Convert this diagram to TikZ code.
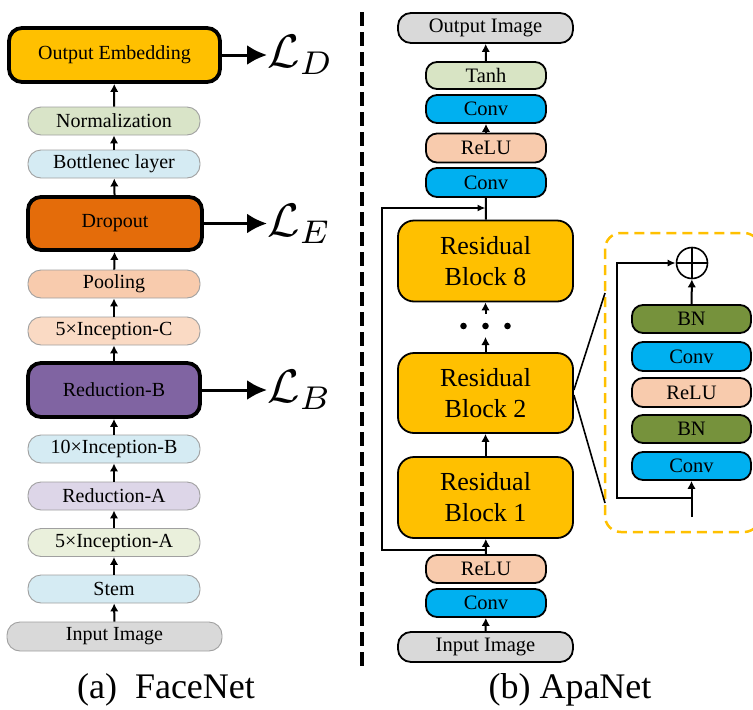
\documentclass[tikz,border=0pt]{standalone}
\usepackage{fontspec}
\setmainfont{Liberation Serif}
\usetikzlibrary{arrows.meta,positioning,calc}

\definecolor{cGold}{HTML}{FFC000}
\definecolor{cDrop}{HTML}{E46C0A}
\definecolor{cPurple}{HTML}{8064A2}
\definecolor{cNorm}{HTML}{D9E4C8}
\definecolor{cBlueL}{HTML}{D5EBF3}
\definecolor{cPeach}{HTML}{F8CBAD}
\definecolor{cPeachL}{HTML}{FADAC4}
\definecolor{cLav}{HTML}{DDD6E8}
\definecolor{cGreenL}{HTML}{EAF0DC}
\definecolor{cGray}{HTML}{D9D9D9}
\definecolor{cConv}{HTML}{00B0F0}
\definecolor{cBN}{HTML}{76923C}
\definecolor{cTanh}{HTML}{D8E4C4}
\definecolor{cEdge}{HTML}{A0A0A0}

\newcommand{\losssym}[1]{\scalebox{4.7}{$\mathcal{L}_{#1}$}}

\tikzset{
  lbox/.style={draw=cEdge, line width=0.9pt, rounded corners=13pt,
    minimum width=172pt, minimum height=28pt, inner sep=0pt,
    font=\fontsize{20}{22}\selectfont},
  lthick/.style={draw=black, line width=3.8pt, rounded corners=13pt,
    minimum width=172pt, minimum height=53pt, inner sep=0pt,
    font=\fontsize{20}{22}\selectfont},
  rbox/.style={draw=black, line width=1.8pt, rounded corners=11pt,
    minimum width=120pt, minimum height=28pt, inner sep=0pt,
    font=\fontsize{20.5}{22}\selectfont},
  wbox/.style={rbox, minimum width=175pt, minimum height=30pt, rounded corners=13pt},
  resbox/.style={draw=black, line width=1.8pt, rounded corners=16pt, fill=cGold,
    minimum width=175pt, minimum height=81pt, inner sep=0pt, align=center,
    font=\fontsize{26}{31}\selectfont},
  flow/.style={line width=2pt, -{Latex[length=8pt,width=8.5pt]}},
  link/.style={line width=2pt},
  skip/.style={line width=1.6pt, -{Latex[length=8pt,width=7pt]}},
  loss/.style={line width=3pt, -{Latex[length=20pt,width=20pt]}},
  losslabel/.style={anchor=west, inner sep=0pt},
  caption/.style={font=\fontsize{36}{40}\selectfont}
}

\begin{document}
\begin{tikzpicture}[x=1pt,y=-1pt]
\path[use as bounding box] (0,0) rectangle (753,710);
\clip (0,0) rectangle (753,710);

% ---------------- (a) FaceNet ----------------
\node[lthick, fill=cGold, minimum width=211pt, minimum height=54pt] (oe) at (114.5,55) {Output Embedding};
\node[lbox, fill=cNorm] (norm) at (114,121) {Normalization};
\node[lbox, fill=cBlueL] (bott) at (114,164) {Bottlenec layer};
\node[lthick, fill=cDrop, minimum width=174pt] (drop) at (115,223.5) {Dropout};
\node[lbox, fill=cPeach] (pool) at (114,284) {Pooling};
\node[lbox, fill=cPeachL] (incC) at (114,331) {5×Inception-C};
\node[lthick, fill=cPurple, minimum height=54pt] (redB) at (114,390) {Reduction-B};
\node[lbox, fill=cBlueL] (incB) at (114,449) {10×Inception-B};
\node[lbox, fill=cLav] (redA) at (114,496) {Reduction-A};
\node[lbox, fill=cGreenL] (incA) at (114,542.5) {5×Inception-A};
\node[lbox, fill=cBlueL] (stem) at (114,589) {Stem};
\node[lbox, fill=cGray, minimum width=215pt, minimum height=29pt] (inL) at (114.5,636.5) {Input Image};

\draw[flow] (inL) -- (stem);
\draw[flow] (stem) -- (incA);
\draw[flow] (incA) -- (redA);
\draw[flow] (redA) -- (incB);
\draw[flow] (incB) -- (redB);
\draw[flow] (redB) -- (incC);
\draw[flow] (incC) -- (pool);
\draw[flow] (pool) -- (drop);
\draw[flow] (drop) -- (bott);
\draw[flow] (bott) -- (norm);
\draw[flow] (norm) -- (oe);

\coordinate (lD) at (267,55);
\coordinate (lE) at (267,223.5);
\coordinate (lB) at (267,390);
\draw[loss] (oe.east) -- (lD);
\draw[loss] (drop.east) -- (lE);
\draw[loss] (redB.east) -- (lB);
\node[losslabel] (LD) at (lD) {\losssym{D}};
\node[losslabel] (LE) at (lE) {\losssym{E}};
\node[losslabel] (LB) at (lB) {\losssym{B}};

\node[caption] (capA) at (166,690) {(a)\enspace FaceNet};

% divider between the two panels
\coordinate (divTop) at (362,12);
\coordinate (divBot) at (362,667);
\draw[line width=4pt, dash pattern=on 14pt off 6pt] (divTop) -- (divBot);

% ---------------- (b) ApaNet ----------------
\node[wbox, fill=cGray] (outR) at (485.5,28) {Output Image};
\node[rbox, fill=cTanh, minimum height=27pt] (tanh) at (486,75.5) {Tanh};
\node[rbox, fill=cConv] (conv4) at (486,109) {Conv};
\node[rbox, fill=cPeach, minimum height=29pt] (relu2) at (486,148) {ReLU};
\node[rbox, fill=cConv, minimum height=29pt] (conv3) at (486,182.5) {Conv};
\node[resbox] (res8) at (485.5,261) {Residual\\Block 8};
\node[resbox, minimum height=80pt] (res2) at (485.5,393) {Residual\\Block 2};
\node[resbox] (res1) at (485.5,497.5) {Residual\\Block 1};
\node[rbox, fill=cPeach] (relu1) at (486,569) {ReLU};
\node[rbox, fill=cConv] (conv1) at (486,603) {Conv};
\node[wbox, fill=cGray] (inR) at (485.5,647) {Input Image};

\draw[flow] (inR) -- (conv1);
\draw[flow] (relu1) -- (res1);
\draw[flow] (res1) -- (res2);
\coordinate (dotsLo) at (485.5,337);
\coordinate (dotsHi) at (485.5,314);
\draw[flow] (res2) -- (dotsLo);
\draw[flow] (dotsHi) -- (res8);
\foreach \dx in {-22,0,22} \fill (485.5+\dx,326) circle (3.3pt);
\draw[link] (res8) -- (conv3);
\draw[flow] (relu2) -- (conv4);
\draw[flow] (tanh) -- (outR);

% long skip connection
\coordinate (skipFrom) at (485.5,550);
\coordinate (skipTo) at (485.5,208);
\coordinate (skipX) at (382,0);
\draw[skip] (skipFrom) -- (skipFrom -| skipX) -- (skipTo -| skipX) -- (skipTo);

% ---------------- residual block detail ----------------
\draw[cGold, line width=2.5pt, dash pattern=on 10pt off 6pt, rounded corners=16pt]
  (605,233) rectangle (760,532);
\coordinate (zTop) at (605,293);
\coordinate (zBot) at (605,503);
\draw[line width=1.6pt] ($(res2.east)+(0,-3)$) -- (zTop);
\draw[line width=1.6pt] ($(res2.east)+(0,2)$) -- (zBot);

\node[draw, line width=1.6pt, circle, minimum size=31pt, inner sep=0pt] (plus) at (692,263) {};
\draw[line width=1.6pt] (plus.north) -- (plus.south) (plus.west) -- (plus.east);

\node[rbox, fill=cBN, minimum width=119pt] (bnA) at (691.5,319) {BN};
\node[rbox, fill=cConv, minimum width=119pt, minimum height=29pt] (cvA) at (691.5,356.5) {Conv};
\node[rbox, fill=cPeach, minimum width=119pt, minimum height=29pt] (rlA) at (691.5,392.5) {ReLU};
\node[rbox, fill=cBN, minimum width=119pt] (bnB) at (691.5,429) {BN};
\node[rbox, fill=cConv, minimum width=119pt] (cvB) at (691.5,466) {Conv};

\draw[flow] (bnA) -- (plus);
\coordinate (inBot) at (691.5,517);
\coordinate (inSplit) at (691.5,498);
\coordinate (inX) at (617,0);
\draw[flow] (inBot) -- (cvB);
\draw[skip] (inSplit) -- (inSplit -| inX) -- (plus.west -| inX) -- (plus.west);

\node[caption] (capB) at (570,690) {(b) ApaNet};
\end{tikzpicture}
\end{document}
